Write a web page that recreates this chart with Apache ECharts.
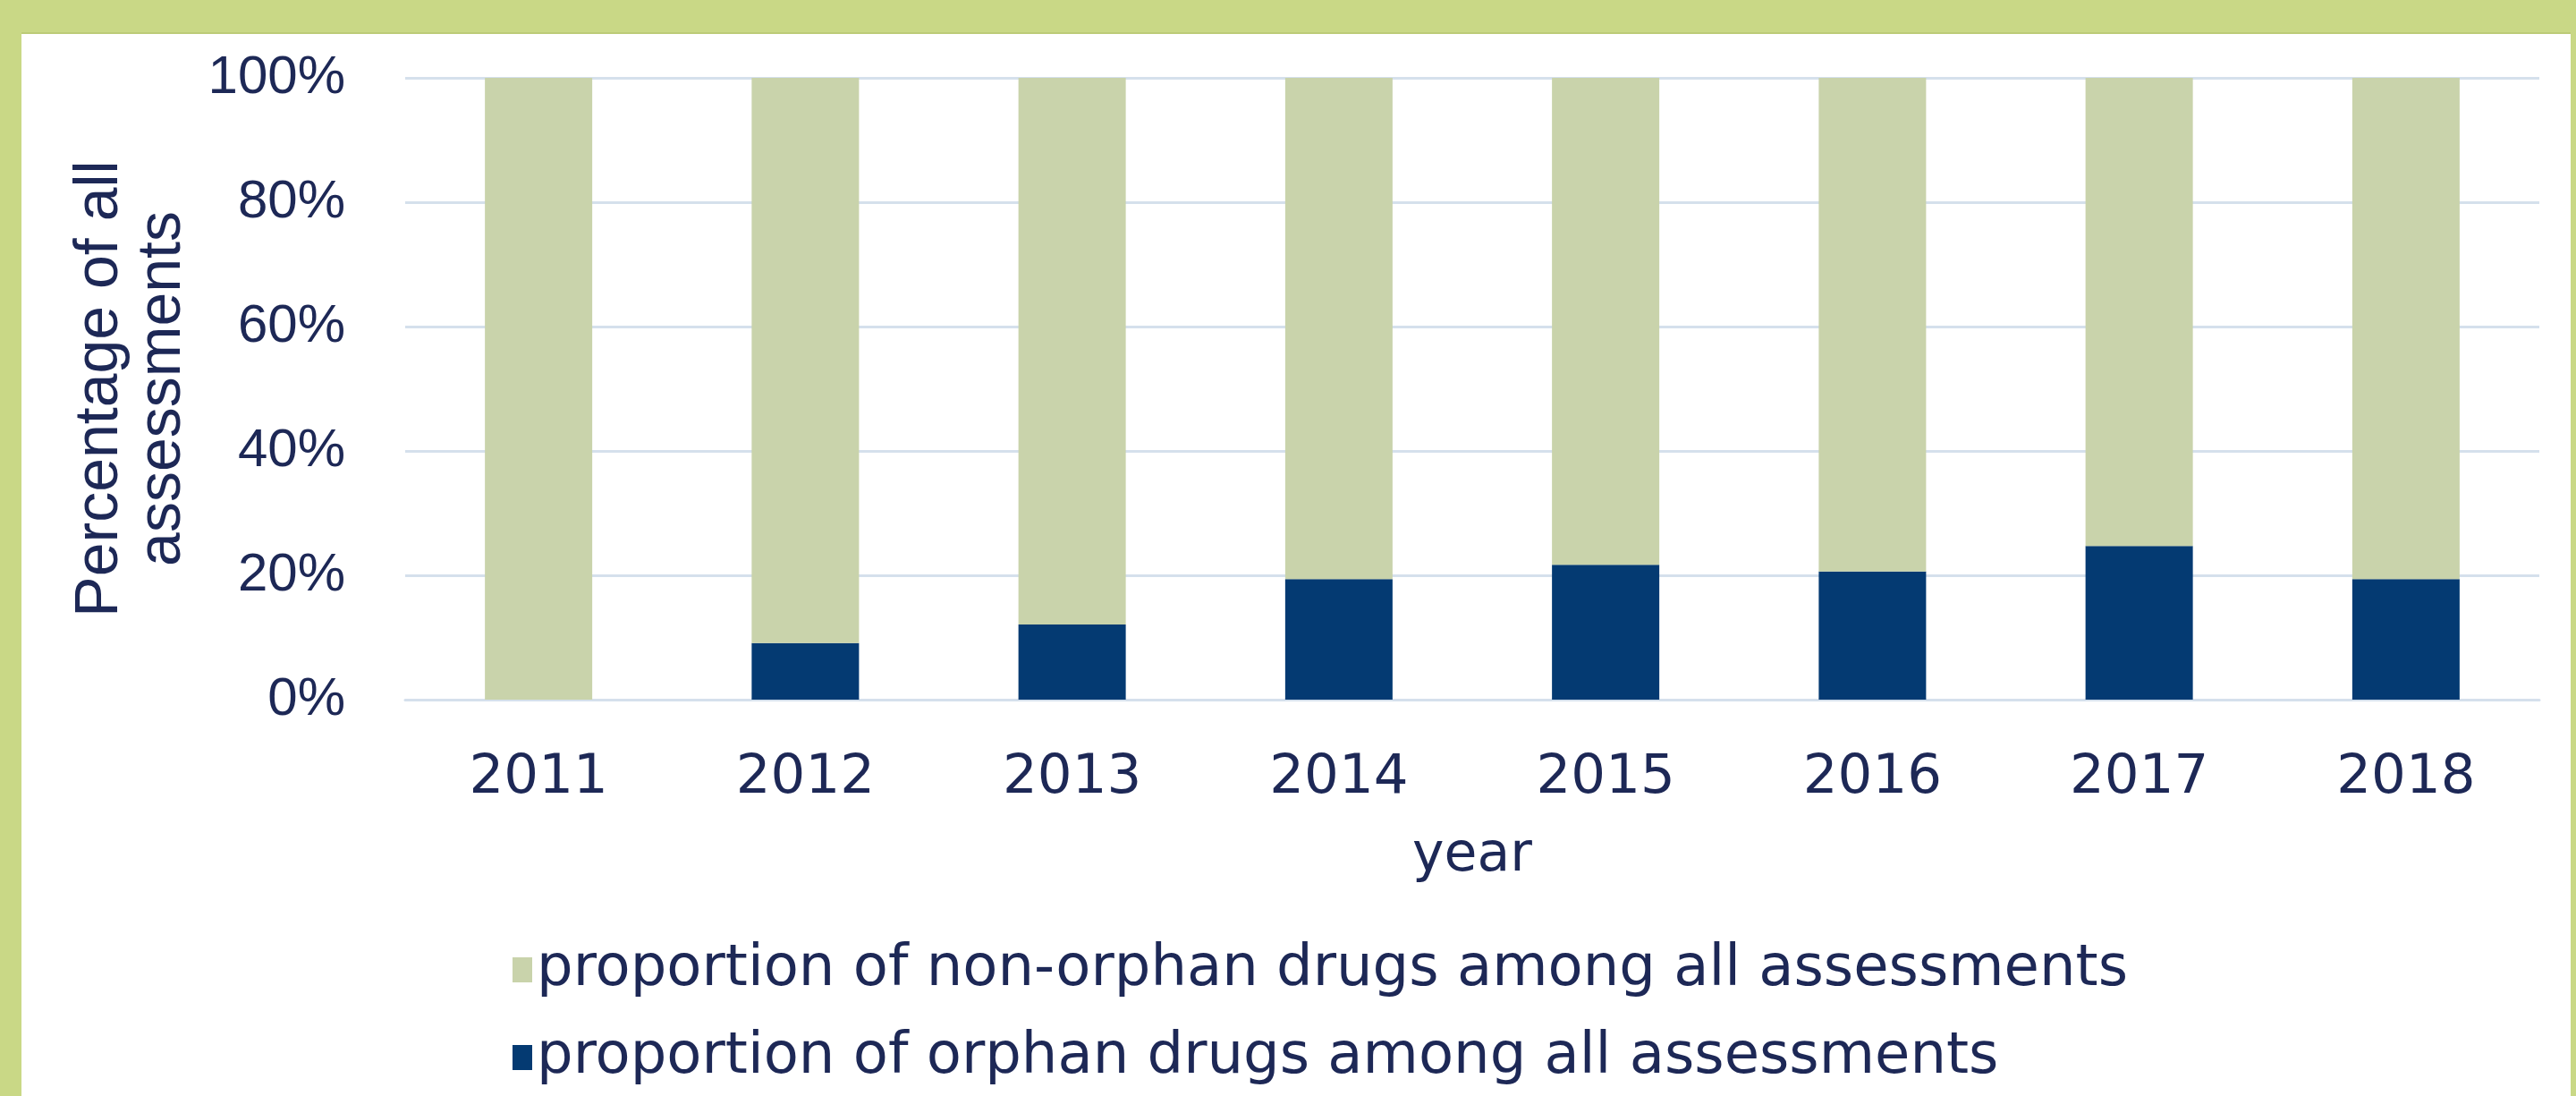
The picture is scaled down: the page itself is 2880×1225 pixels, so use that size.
<!DOCTYPE html>
<html>
<head>
<meta charset="utf-8">
<script src="https://cdn.jsdelivr.net/npm/echarts@6/dist/echarts.min.js"></script>
<style>
  html, body { margin: 0; padding: 0; width: 2880px; height: 1225px; overflow: hidden; background: #C9D886; }
  #panel { position: absolute; left: 24px; top: 36px; width: 2850px; height: 1189px; background: #ffffff; border-top: 2px solid #BCCB78; box-sizing: border-box; }
  #chart { position: absolute; left: 0; top: 0; width: 2880px; height: 1225px; }
</style>
</head>
<body>
<div id="panel"></div>
<div id="chart"></div>
<script>
const years = ['2011', '2012', '2013', '2014', '2015', '2016', '2017', '2018'];
const orphanShare = [0, 9.1, 12.1, 19.4, 21.7, 20.6, 24.7, 19.4];
const nonOrphanShare = [100, 90.9, 87.9, 80.6, 78.3, 79.4, 75.3, 80.6];
const yTicks = [0, 20, 40, 60, 80, 100];
const seriesNames = ['proportion of non-orphan drugs among all assessments', 'proportion of orphan drugs among all assessments'];
const titleText = 'Figure 4: Proportion of orphan drugs among all assessments by year';
const yAxisTitle = 'Percentage of all\nassessments';
const xAxisTitle = 'year';

const textColor = '#1d2856';
const chart = echarts.init(document.getElementById('chart'), null, { renderer: 'canvas' });
chart.setOption({
  backgroundColor: 'transparent',
  animation: false,
  graphic: [{
    type: 'text',
    x: 40,
    y: 2,
    z: 100,
    style: {
      text: titleText,
      font: '68px "DejaVu Sans"',
      fill: textColor,
      align: 'left',
      verticalAlign: 'bottom'
    }
  }],
  grid: { left: 453, right: 41, top: 87, bottom: 443, containLabel: false },
  legend: {
    orient: 'vertical',
    left: 568,
    top: 1047,
    itemWidth: 22,
    itemHeight: 28,
    itemGap: 34,
    icon: 'rect',
    data: [seriesNames[0], seriesNames[1]],
    textStyle: { fontFamily: 'DejaVu Sans', fontSize: 64, color: textColor }
  },
  xAxis: {
    type: 'category',
    data: years,
    name: xAxisTitle,
    nameLocation: 'middle',
    nameGap: 145,
    nameTextStyle: { fontFamily: 'DejaVu Sans', fontSize: 60, color: textColor },
    axisLine: { show: true, lineStyle: { color: '#D5E0EC', width: 3 } },
    axisTick: { show: false },
    axisLabel: { fontFamily: 'DejaVu Sans', fontSize: 61, color: textColor, margin: 58 }
  },
  yAxis: {
    type: 'value',
    min: 0,
    max: 100,
    interval: 20,
    name: yAxisTitle,
    nameLocation: 'middle',
    nameRotate: 90,
    nameGap: 236,
    nameTextStyle: { fontFamily: 'Liberation Sans', fontSize: 68, lineHeight: 70, color: textColor },
    axisLine: { show: false },
    axisTick: { show: false },
    splitLine: { lineStyle: { color: '#D5E0EC', width: 3 } },
    axisLabel: {
      fontFamily: 'Liberation Sans', fontSize: 60, color: textColor, margin: 67,
      formatter: function (v) { return yTicks.indexOf(v) >= 0 ? v + '%' : ''; }
    }
  },
  series: [
    {
      name: seriesNames[1],
      type: 'bar',
      stack: 'total',
      barWidth: 120,
      data: orphanShare,
      itemStyle: { color: '#043A72' }
    },
    {
      name: seriesNames[0],
      type: 'bar',
      stack: 'total',
      barWidth: 120,
      data: nonOrphanShare,
      itemStyle: { color: '#C9D3AB' }
    }
  ]
});
</script>
</body>
</html>
